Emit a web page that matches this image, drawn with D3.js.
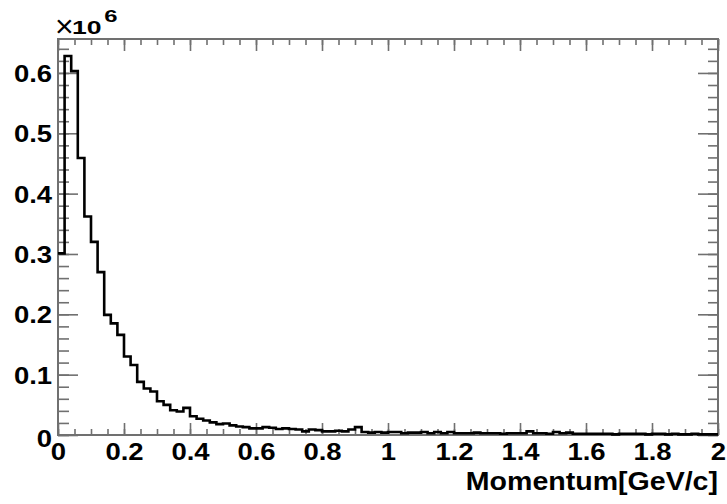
<!DOCTYPE html>
<html>
<head>
<meta charset="utf-8">
<script src="https://cdn.jsdelivr.net/npm/d3@7"></script>
<style>
  body { margin: 0; background: #fff; }
  svg { display: block; }
  .tick text { font-family: "Liberation Sans", Arial, sans-serif; font-weight: bold; fill: #000; }
</style>
</head>
<body>
<div id="chart"></div>
<script>
// histogram counts per 0.02 GeV/c bin, in units of 1e6
const counts = [
    0.301, 0.628, 0.603, 0.459, 0.362, 0.320, 0.270, 0.199, 0.185, 0.166,
    0.130, 0.116, 0.088, 0.077, 0.072, 0.056, 0.050, 0.041, 0.039, 0.045,
    0.031, 0.027, 0.024, 0.021, 0.018, 0.019, 0.016, 0.014, 0.013, 0.011,
    0.011, 0.013, 0.012, 0.010, 0.011, 0.010, 0.009, 0.006, 0.009, 0.008,
    0.006, 0.006, 0.007, 0.006, 0.009, 0.013, 0.005, 0.004, 0.005, 0.004,
    0.005, 0.005, 0.003, 0.004, 0.004, 0.005, 0.003, 0.005, 0.003, 0.005,
    0.003, 0.003, 0.003, 0.004, 0.003, 0.003, 0.003, 0.002, 0.003, 0.003,
    0.003, 0.006, 0.003, 0.003, 0.002, 0.005, 0.003, 0.004, 0.002, 0.002,
    0.002, 0.002, 0.002, 0.002, 0.001, 0.002, 0.002, 0.002, 0.002, 0.001,
    0.002, 0.002, 0.001, 0.002, 0.001, 0.001, 0.002, 0.001, 0.001, 0.001
];
const binWidth = 0.02;
const xTicks = [0, 0.2, 0.4, 0.6, 0.8, 1, 1.2, 1.4, 1.6, 1.8, 2];
const yTicks = [0, 0.1, 0.2, 0.3, 0.4, 0.5, 0.6];
const xTitle = "Momentum[GeV/c]";

const W = 727, H = 504;
const margin = {top: 39, right: 9, bottom: 69, left: 58};
const width = W - margin.left - margin.right;
const height = H - margin.top - margin.bottom;
const axisColor = "#707070";
const font = "'Liberation Sans', Arial, sans-serif";
const stretch = "scale(1.17,1)"; // the reference lettering is a little wide

const svg = d3.select("#chart").append("svg")
    .attr("width", W).attr("height", H);

const g = svg.append("g")
    .attr("transform", `translate(${margin.left},${margin.top})`);

const x = d3.scaleLinear().domain([0, 2]).range([0, width]);
const y = d3.scaleLinear().domain([0, d3.max(counts) * 1.045]).range([height, 0]);

// minor ticks (no labels)
const xMinor = d3.range(0, 2.0001, 0.05);
const yMinor = d3.range(0, 0.65, 0.02);

function styleAxis(sel) {
    sel.select(".domain").remove();
    sel.selectAll(".tick line").attr("stroke", axisColor).attr("stroke-width", 1.6);
}

g.append("g").attr("transform", `translate(0,${height})`)
    .call(d3.axisBottom(x).tickValues(xMinor).tickSize(-6).tickFormat(""))
    .call(styleAxis);
g.append("g")
    .call(d3.axisTop(x).tickValues(xMinor).tickSize(-6).tickFormat(""))
    .call(styleAxis);
g.append("g")
    .call(d3.axisLeft(y).tickValues(yMinor).tickSize(-11).tickFormat(""))
    .call(styleAxis);
g.append("g").attr("transform", `translate(${width},0)`)
    .call(d3.axisRight(y).tickValues(yMinor).tickSize(-10).tickFormat(""))
    .call(styleAxis);

// major ticks
g.append("g").attr("transform", `translate(0,${height})`)
    .call(d3.axisBottom(x).tickValues(xTicks).tickSize(-12).tickPadding(8).tickFormat(d3.format("")))
    .call(styleAxis)
    .selectAll("text")
    .style("font-size", "23.5px")
    .attr("transform", stretch);
g.append("g")
    .call(d3.axisTop(x).tickValues(xTicks).tickSize(-12).tickFormat(""))
    .call(styleAxis);
g.append("g")
    .call(d3.axisLeft(y).tickValues(yTicks).tickSize(-20).tickPadding(5).tickFormat(d3.format("")))
    .call(styleAxis)
    .selectAll("text")
    .style("font-size", "23.5px")
    .attr("dy", d => d === 0 ? "0.5em" : "0.36em")
    .attr("transform", stretch);
g.append("g").attr("transform", `translate(${width},0)`)
    .call(d3.axisRight(y).tickValues(yTicks).tickSize(-20).tickFormat(""))
    .call(styleAxis);

// frame
g.append("rect")
    .attr("width", width).attr("height", height)
    .attr("fill", "none").attr("stroke", axisColor).attr("stroke-width", 2);

// histogram outline
const pts = counts.map((c, i) => [i * binWidth, c]);
pts.push([counts.length * binWidth, counts[counts.length - 1]]);
const line = d3.line()
    .x(d => x(d[0])).y(d => y(d[1]))
    .curve(d3.curveStepAfter);
g.append("path")
    .attr("d", line(pts))
    .attr("fill", "none").attr("stroke", "#000").attr("stroke-width", 2.6);

// exponent label  (x10^6)
svg.append("text")
    .attr("x", margin.left - 3).attr("y", 37)
    .attr("font-family", font).attr("font-size", 32).attr("fill", "#000")
    .text("×");
const expo = svg.append("g")
    .attr("transform", `translate(72,33.5) scale(1.4,1)`)
    .attr("font-family", font).attr("fill", "#000").attr("font-weight", "bold");
expo.append("text").attr("x", 0).attr("font-size", 19).text("10");
expo.append("text").attr("x", 23).attr("y", -12).attr("font-size", 17).text("6");

// axis title
svg.append("text")
    .attr("transform", `translate(${margin.left + width},490) scale(1.12,1)`)
    .attr("text-anchor", "end")
    .style("font-family", font)
    .style("font-weight", "bold").style("font-size", "25.5px").style("fill", "#000")
    .text(xTitle);
</script>
</body>
</html>
